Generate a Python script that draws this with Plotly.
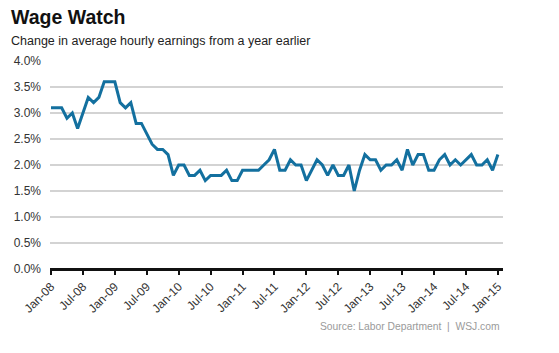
import plotly.graph_objects as go

tick_labels = ["Jan-08", "Jul-08", "Jan-09", "Jul-09", "Jan-10", "Jul-10", "Jan-11", "Jul-11",
               "Jan-12", "Jul-12", "Jan-13", "Jul-13", "Jan-14", "Jul-14", "Jan-15"]
month_index = list(range(85))  # Jan-08 .. Jan-15
wage_growth = [3.1, 3.1, 3.1, 2.9, 3.0, 2.7, 3.0, 3.3, 3.2, 3.3, 3.6, 3.6,
               3.6, 3.2, 3.1, 3.2, 2.8, 2.8, 2.6, 2.4, 2.3, 2.3, 2.2, 1.8,
               2.0, 2.0, 1.8, 1.8, 1.9, 1.7, 1.8, 1.8, 1.8, 1.9, 1.7, 1.7,
               1.9, 1.9, 1.9, 1.9, 2.0, 2.1, 2.3, 1.9, 1.9, 2.1, 2.0, 2.0,
               1.7, 1.9, 2.1, 2.0, 1.8, 2.0, 1.8, 1.8, 2.0, 1.5, 1.9, 2.2,
               2.1, 2.1, 1.9, 2.0, 2.0, 2.1, 1.9, 2.3, 2.0, 2.2, 2.2, 1.9,
               1.9, 2.1, 2.2, 2.0, 2.1, 2.0, 2.1, 2.2, 2.0, 2.0, 2.1, 1.9,
               2.2]
y_ticks = [0, 0.5, 1.0, 1.5, 2.0, 2.5, 3.0, 3.5, 4.0]

fig = go.Figure()
fig.add_trace(go.Scatter(
    x=month_index, y=wage_growth, mode="lines",
    line=dict(color="#13709f", width=3),
    hoverinfo="skip", showlegend=False,
))

fig.update_layout(
    width=559, height=353,
    margin=dict(l=50, r=56, t=61, b=84),
    paper_bgcolor="white", plot_bgcolor="white",
    font=dict(family="Liberation Sans, Arial, sans-serif", color="#333333"),
    xaxis=dict(
        range=[-0.19, 84.96],
        tickmode="array",
        tickvals=[i * 6 for i in range(len(tick_labels))],
        ticktext=tick_labels,
        tickangle=-45,
        tickfont=dict(size=12, color="#333333"),
        ticks="outside", ticklen=5, tickwidth=2, tickcolor="#111111",
        showgrid=False, zeroline=False,
        showline=False,
    ),
    yaxis=dict(
        range=[0, 4.0],
        tickmode="array",
        tickvals=y_ticks,
        ticktext=[f"{v:.1f}%" for v in y_ticks],
        tickfont=dict(size=12, color="#333333"),
        showgrid=True, gridcolor="#d3d3d3", gridwidth=1.5,
        zeroline=True, zerolinecolor="#111111", zerolinewidth=2.5,
        ticklabelstandoff=8,
        showline=False,
    ),
    annotations=[
        dict(text="<b>Wage Watch</b>", x=9, y=17, showarrow=False,
             xanchor="left", yanchor="middle",
             font=dict(size=19.5, color="#111111")),
        dict(text="Change in average hourly earnings from a year earlier",
             x=9, y=41, showarrow=False,
             xanchor="left", yanchor="middle",
             font=dict(size=12.5, color="#222222")),
        dict(text="Source: Labor Department  |  WSJ.com",
             x=502, y=326, showarrow=False, xanchor="right", yanchor="middle",
             font=dict(size=10.3, color="#9a9a9a")),
    ],
)

# convert annotation pixel positions to paper coords
W, H = 559, 353
l, r, t, b = 50, 56, 61, 84
pw, ph = W - l - r, H - t - b
new_ann = []
for a in fig.layout.annotations:
    px, py = a.x, a.y
    a.update(xref="paper", yref="paper", x=(px - l) / pw, y=(H - b - py) / ph)
    new_ann.append(a)
fig.layout.annotations = new_ann

fig.write_html("out.html")
